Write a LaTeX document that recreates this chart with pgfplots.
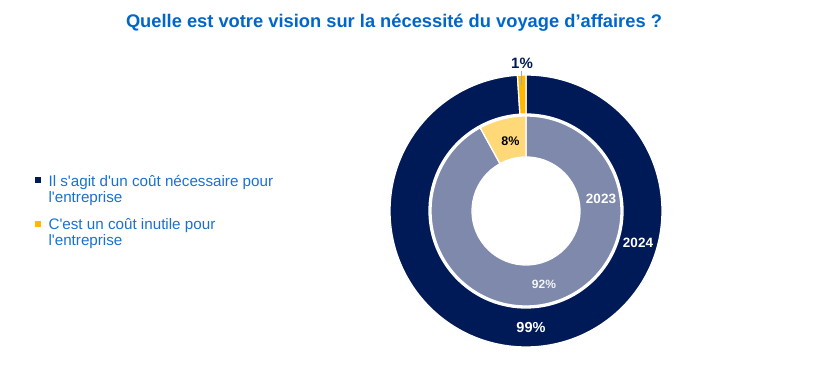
\documentclass[border=0pt]{standalone}
\usepackage{pgfplots}
\pgfplotsset{compat=1.18}
\usepackage{pgfplotstable}
\usepackage{fontspec}
\setmainfont{Liberation Sans}
\definecolor{navy}{RGB}{0,25,87}
\definecolor{greyblue}{RGB}{126,137,171}
\definecolor{gold}{RGB}{255,184,0}
\definecolor{lightgold}{RGB}{255,216,120}
\definecolor{titleblue}{RGB}{0,102,204}
\definecolor{legblue}{RGB}{25,112,210}
\definecolor{leader}{RGB}{150,170,215}

% year, share "necessary" (%), share "useless" (%), inner radius, outer radius (px)
\pgfplotstableread{
year necessary useless rin rout
2024 99 1 97 136
2023 92 8 54 95
}\donutdata

\newcommand\donutwedge[5]{% colour, start angle, end angle, inner r, outer r
  \fill[#1, draw=white, line width=1.3pt]
    ([shift={(#2:#5pt)}]axis cs:526,159) arc[start angle=#2, end angle=#3, radius=#5pt]
    -- ([shift={(#3:#4pt)}]axis cs:526,159) arc[start angle=#3, end angle=#2, radius=#4pt]
    -- cycle;}

\begin{document}
\begin{tikzpicture}
\path[use as bounding box] (0,0) rectangle (817pt,370pt);
\pgfplotstablegetelem{0}{necessary}\of\donutdata \pgfmathsetmacro\outA{90-3.6*\pgfplotsretval}
\pgfplotstablegetelem{0}{useless}\of\donutdata \pgfmathsetmacro\outB{\outA-3.6*\pgfplotsretval}
\pgfplotstablegetelem{1}{necessary}\of\donutdata \pgfmathsetmacro\inA{90-3.6*\pgfplotsretval}
\pgfplotstablegetelem{1}{useless}\of\donutdata \pgfmathsetmacro\inB{\inA-3.6*\pgfplotsretval}
\begin{axis}[x=1pt, y=1pt, xmin=0, xmax=817, ymin=0, ymax=370, hide axis,
  at={(0pt,0pt)}, anchor=origin, clip=false]
  % outer ring 2024
  \donutwedge{navy}{90}{\outA}{97}{136}
  \donutwedge{gold}{\outA}{\outB}{97}{136}
  % inner ring 2023
  \donutwedge{greyblue}{90}{\inA}{54}{95}
  \donutwedge{lightgold}{\inA}{\inB}{54}{95}
  % labels
  \draw[leader, line width=0.8pt] (axis cs:521.5,299) -- (axis cs:521.5,285);
  \node[navy, font=\bfseries\fontsize{15}{17}\selectfont] at (axis cs:522,307) {1\%};
  \node[black, font=\bfseries\fontsize{12.5}{14}\selectfont] at (axis cs:510.5,229) {8\%};
  \node[white, font=\bfseries\fontsize{13.5}{15}\selectfont] at (axis cs:601,171) {2023};
  \node[white, font=\bfseries\fontsize{13.5}{15}\selectfont] at (axis cs:638,127) {2024};
  \node[white!92!greyblue, font=\bfseries\fontsize{12}{14}\selectfont] at (axis cs:544,86) {92\%};
  \node[white, font=\bfseries\fontsize{14.5}{16}\selectfont] at (axis cs:531,42) {99\%};
  % title
  \node[titleblue, anchor=base, font=\bfseries\fontsize{18.3}{21}\selectfont] at (axis cs:394,342) {Quelle est votre vision sur la nécessité du voyage d’affaires ?};
  % legend
  \fill[navy] (axis cs:35,187) rectangle (axis cs:41,193);
  \fill[gold] (axis cs:35,143) rectangle (axis cs:41,149);
  \node[legblue, anchor=base west, font=\fontsize{15.2}{17}\selectfont] at (axis cs:45,183) {Il s\textquotesingle agit d\textquotesingle un coût nécessaire pour};
  \node[legblue, anchor=base west, font=\fontsize{15.2}{17}\selectfont] at (axis cs:45,167) {l\textquotesingle entreprise};
  \node[legblue, anchor=base west, font=\fontsize{15.2}{17}\selectfont] at (axis cs:45,140) {C\textquotesingle est un coût inutile pour};
  \node[legblue, anchor=base west, font=\fontsize{15.2}{17}\selectfont] at (axis cs:45,124) {l\textquotesingle entreprise};
\end{axis}
\end{tikzpicture}
\end{document}
